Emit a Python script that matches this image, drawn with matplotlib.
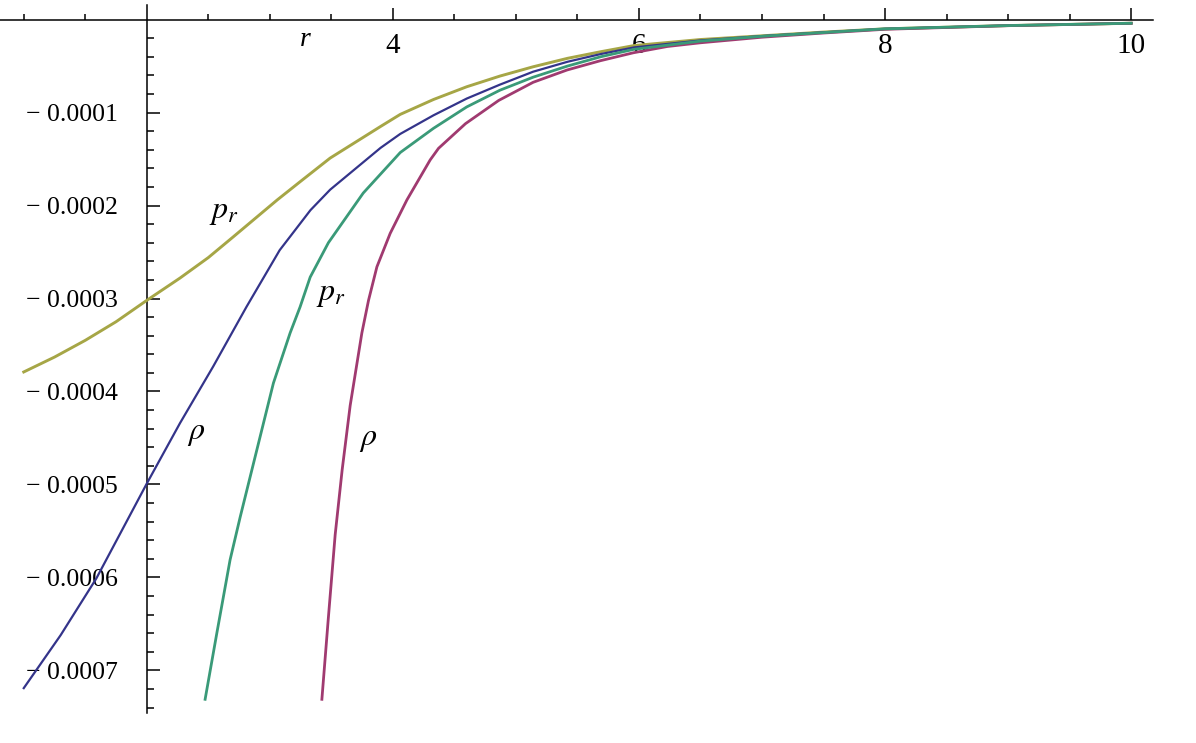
import numpy as np
import matplotlib
matplotlib.use('Agg')
import matplotlib.pyplot as plt

plt.rcParams['font.family'] = ['Liberation Serif', 'DejaVu Serif']
plt.rcParams['mathtext.fontset'] = 'stix'

# values are in units of 1e-4
SCALE = 1e-4

# p_r, first model (olive)
r_pr1 = [1.0, 1.25, 1.5, 1.75, 2.0, 2.27, 2.5, 2.7, 3.06, 3.25, 3.49, 3.9, 4.06,
         4.33, 4.6, 4.87, 5.14, 5.42, 5.69, 5.96, 6.5, 7.0, 7.5, 8.0, 9.0, 10.0]
v_pr1 = [-3.79, -3.63, -3.45, -3.25, -3.02, -2.78, -2.56, -2.34, -1.94, -1.74,
         -1.49, -1.15, -1.02, -0.86, -0.723, -0.608, -0.508, -0.417, -0.346,
         -0.28, -0.215, -0.175, -0.135, -0.10, -0.065, -0.04]

# rho, first model (blue)
r_rho1 = [1.0, 1.3, 1.59, 2.0, 2.27, 2.54, 2.81, 3.08, 3.33, 3.49, 3.9, 4.06,
          4.33, 4.6, 4.87, 5.14, 5.42, 5.69, 5.96, 6.5, 7.0, 7.5, 8.0, 9.0, 10.0]
v_rho1 = [-7.19, -6.62, -6.01, -4.99, -4.34, -3.73, -3.09, -2.48, -2.05, -1.83,
          -1.38, -1.23, -1.03, -0.85, -0.70, -0.561, -0.454, -0.371, -0.30,
          -0.225, -0.178, -0.138, -0.10, -0.065, -0.04]

# p_r, second model (green)
r_pr2 = [2.474, 2.569, 2.677, 2.759, 2.894, 3.029, 3.165, 3.246, 3.328, 3.476,
         3.759, 4.06, 4.33, 4.6, 4.87, 5.14, 5.42, 5.69, 5.96, 6.5, 7.0, 7.5,
         8.0, 9.0, 10.0]
v_pr2 = [-7.31, -6.60, -5.81, -5.35, -4.63, -3.91, -3.37, -3.09, -2.77, -2.40,
         -1.866, -1.43, -1.17, -0.94, -0.76, -0.62, -0.50, -0.40, -0.32, -0.232,
         -0.18, -0.14, -0.10, -0.065, -0.04]

# rho, second model (magenta)
r_rho2 = [3.423, 3.474, 3.531, 3.588, 3.653, 3.748, 3.802, 3.870, 3.978, 4.114,
          4.303, 4.371, 4.59, 4.86, 5.14, 5.415, 5.686, 5.956, 6.23, 6.5, 7.0,
          7.5, 8.0, 9.0, 10.0]
v_rho2 = [-7.31, -6.46, -5.54, -4.84, -4.15, -3.37, -3.02, -2.66, -2.30, -1.94,
          -1.51, -1.385, -1.12, -0.87, -0.675, -0.543, -0.443, -0.357, -0.29,
          -0.25, -0.19, -0.145, -0.105, -0.066, -0.04]

x_major = [4, 6, 8, 10]
y_major = [-1, -2, -3, -4, -5, -6, -7]
y_labels = ['\u2212 0.000' + str(-v) for v in y_major]

fig = plt.figure(figsize=(11.96, 7.43), dpi=100)
ax = fig.add_axes([0, 0, 1, 1])

ax.plot(r_pr1, np.array(v_pr1) * SCALE, color='#a6a646', lw=2.1, zorder=3)
ax.plot(r_rho1, np.array(v_rho1) * SCALE, color='#34348a', lw=1.6, zorder=3)
ax.plot(r_rho2, np.array(v_rho2) * SCALE, color='#a03a70', lw=2.0, zorder=3)
ax.plot(r_pr2, np.array(v_pr2) * SCALE, color='#3a9a78', lw=2.0, zorder=4)

ax.set_xlim(0.807, 10.527)
ax.set_ylim(-7.78e-4, 0.21e-4)

for s in ['top', 'right']:
    ax.spines[s].set_visible(False)
ax.spines['left'].set_position(('data', 2))
ax.spines['bottom'].set_position(('data', 0))
ax.spines['left'].set_bounds(-7.457e-4, 0.156e-4)
ax.spines['bottom'].set_bounds(0.807, 10.18)
ax.spines['left'].set_linewidth(1.1)
ax.spines['bottom'].set_linewidth(1.1)

ax.set_xticks(x_major)
ax.set_xticklabels([str(v) for v in x_major])
ax.set_xticks([v for v in np.arange(1.0, 10.01, 0.5) if v not in x_major and v != 2], minor=True)
ax.set_yticks(np.array(y_major) * SCALE)
ax.set_yticklabels(y_labels)
ax.set_yticks([v * 0.2e-4 for v in range(-37, 0) if v % 5 != 0], minor=True)

ax.tick_params(axis='x', which='both', direction='in', width=1.1, labelsize=21, pad=10)
ax.tick_params(axis='x', which='major', length=9)
ax.tick_params(axis='x', which='minor', length=4.5)
ax.tick_params(axis='y', which='both', direction='in', width=1.1, labelsize=18.5, pad=21)
ax.tick_params(axis='y', which='major', length=9)
ax.tick_params(axis='y', which='minor', length=5)

ax.text(3.29, -0.22e-4, 'r', fontsize=20, style='italic', ha='center', va='center')

ax.text(2.63, -2.08e-4, '$p_r$', fontsize=23, ha='center', va='center')
ax.text(2.40, -4.45e-4, r'$\rho$', fontsize=23, ha='center', va='center')
ax.text(3.50, -2.96e-4, '$p_r$', fontsize=23, ha='center', va='center')
ax.text(3.80, -4.52e-4, r'$\rho$', fontsize=23, ha='center', va='center')

fig.savefig('out.png', dpi=100)
